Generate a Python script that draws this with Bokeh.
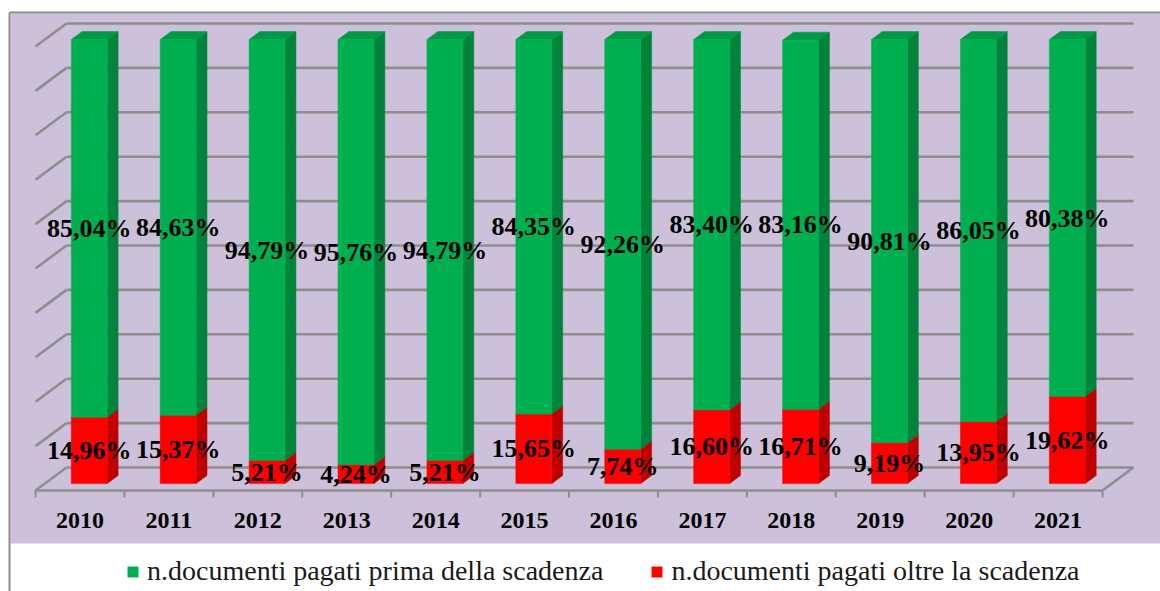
import numpy as np
from bokeh.plotting import figure
from bokeh.models import Range1d, Legend, LegendItem, ColumnDataSource
from bokeh.embed import file_html
from bokeh.resources import INLINE
from bokeh.core.properties import value

# ---------------- data ----------------
years = ["2010", "2011", "2012", "2013", "2014", "2015",
         "2016", "2017", "2018", "2019", "2020", "2021"]
prima = [85.04, 84.63, 94.79, 95.76, 94.79, 84.35, 92.26, 83.40, 83.16, 90.81, 86.05, 80.38]
oltre = [14.96, 15.37, 5.21, 4.24, 5.21, 15.65, 7.74, 16.60, 16.71, 9.19, 13.95, 19.62]
series_names = ["n.documenti pagati prima della scadenza",
                "n.documenti pagati oltre la scadenza"]
grid_values = list(range(0, 101, 10))

# ---------------- geometry / style ----------------
W, H = 1160, 591
OFF = 0                      # figure sits at the page's top-left corner
FX0, FX1 = 35, 1102          # front floor edge in page pixels
FY0 = 490                    # front floor line in page pixels
PPY = 4.44                   # pixels per percent
n = len(years)
UX = (FX1 - FX0) / n         # pixels per category

x_start = (OFF - FX0) / UX
x_end = x_start + W / UX
y_end = (FY0 - OFF) / PPY
y_start = y_end - H / PPY


def px(ix, iy):
    return (ix - FX0) / UX, (FY0 - iy) / PPY


DX, DY = 31 / UX, 23 / PPY   # full depth of the box
D0 = 0.30                    # depth at which bars stand
DB = 0.35                    # bar depth
BAR_W = 36 / UX

LAV = "#CCC0DA"
GRID = "#8E8E8E"
G_FRONT, G_SIDE, G_TOP = "#00B050", "#00843C", "#009A46"
R_FRONT, R_SIDE, R_TOP = "#FF0000", "#C00000", "#D40000"
FONT = "'Liberation Serif', 'Times New Roman', serif"

p = figure(width=W, height=H, x_range=Range1d(x_start, x_end),
           y_range=Range1d(y_start, y_end), output_backend="svg",
           toolbar_location=None, min_border=0, x_axis_location=None,
           y_axis_location=None, background_fill_color="white",
           border_fill_color="white", outline_line_color=None)
p.grid.visible = False

# lavender chart area and its border
l0, t0 = px(10, 13)
r0, b0 = px(1170, 543)
p.quad(left=[l0], right=[r0], top=[t0], bottom=[b0], fill_color=LAV, line_color=None)
bx, by0 = px(9, 12)
_, by1 = px(9, 600)
bx1, _ = px(1170, 12)
p.segment(x0=[bx, bx], y0=[by0, by0], x1=[bx, bx1], y1=[by1, by0],
          line_color="#8A8A8A", line_width=2)

# walls, floor and gridlines
gv = np.array(grid_values, dtype=float)
p.segment(x0=np.full(len(gv), DX), x1=np.full(len(gv), n + DX), y0=gv + DY, y1=gv + DY,
          line_color=GRID, line_width=2.6)
p.segment(x0=np.zeros(len(gv)), x1=np.full(len(gv), DX), y0=gv, y1=gv + DY,
          line_color=GRID, line_width=2.6)
p.segment(x0=[0, n], x1=[n, n + DX], y0=[0, 0], y1=[0, DY], line_color=GRID, line_width=2.6)
tk = np.arange(n + 1, dtype=float)
p.segment(x0=tk, x1=tk, y0=np.zeros(n + 1), y1=np.full(n + 1, -7 / PPY),
          line_color=GRID, line_width=2)

# bars
idx = np.arange(n)
cx = idx + 0.5 + D0 * DX
base = D0 * DY
o = np.array(oltre)
g = np.array(prima)
left = cx - BAR_W / 2
right = cx + BAR_W / 2
ddx, ddy = DB * DX, DB * DY


def faces(bot, top, c_front, c_side, c_top):
    side_xs = [[r, r + ddx, r + ddx, r] for r in right]
    side_ys = [[b, b + ddy, t + ddy, t] for b, t in zip(bot, top)]
    top_xs = [[l, l + ddx, r + ddx, r] for l, r in zip(left, right)]
    top_ys = [[t, t + ddy, t + ddy, t] for t in top]
    p.patches(side_xs, side_ys, fill_color=c_side, line_color=c_side, line_width=0.5)
    p.patches(top_xs, top_ys, fill_color=c_top, line_color=c_top, line_width=0.5)
    return p.quad(left=left, right=right, bottom=bot, top=top,
                  fill_color=c_front, line_color=c_front, line_width=0.5)


red_bot = np.full(n, base)
red_top = base + o
green_top = red_top + g
r_red = faces(red_bot, red_top, R_FRONT, R_SIDE, R_TOP)
r_green = faces(red_top, green_top, G_FRONT, G_SIDE, G_TOP)


def fmt(v):
    return f"{v:.2f}".replace(".", ",") + "%"


lab = ColumnDataSource(dict(
    x=np.concatenate([cx, cx]),
    y=np.concatenate([red_top + g / 2, base + o / 2]),
    t=[fmt(v) for v in prima] + [fmt(v) for v in oltre]))
p.text(x="x", y="y", text="t", source=lab, text_font=value(FONT),
       text_font_style="bold", text_font_size="26px", text_color="black",
       text_align="center", text_baseline="middle")

# category labels
_, ylab = px(0, 520)
p.text(x=idx + 0.5, y=np.full(n, ylab), text=years, text_font=value(FONT),
       text_font_style="bold", text_font_size="24px", text_color="black",
       text_align="center", text_baseline="middle")

legend = Legend(items=[LegendItem(label=series_names[0], renderers=[r_green]),
                       LegendItem(label=series_names[1], renderers=[r_red])],
                orientation="horizontal", location=(126, 4),
                glyph_width=13, glyph_height=13, label_standoff=8, spacing=47,
                padding=0, margin=0, border_line_color=None,
                background_fill_alpha=0, label_text_font=FONT,
                label_text_font_size="28px", label_text_color="#1A1A1A")
p.add_layout(legend)

open("out.html", "w").write(file_html(p, INLINE))
